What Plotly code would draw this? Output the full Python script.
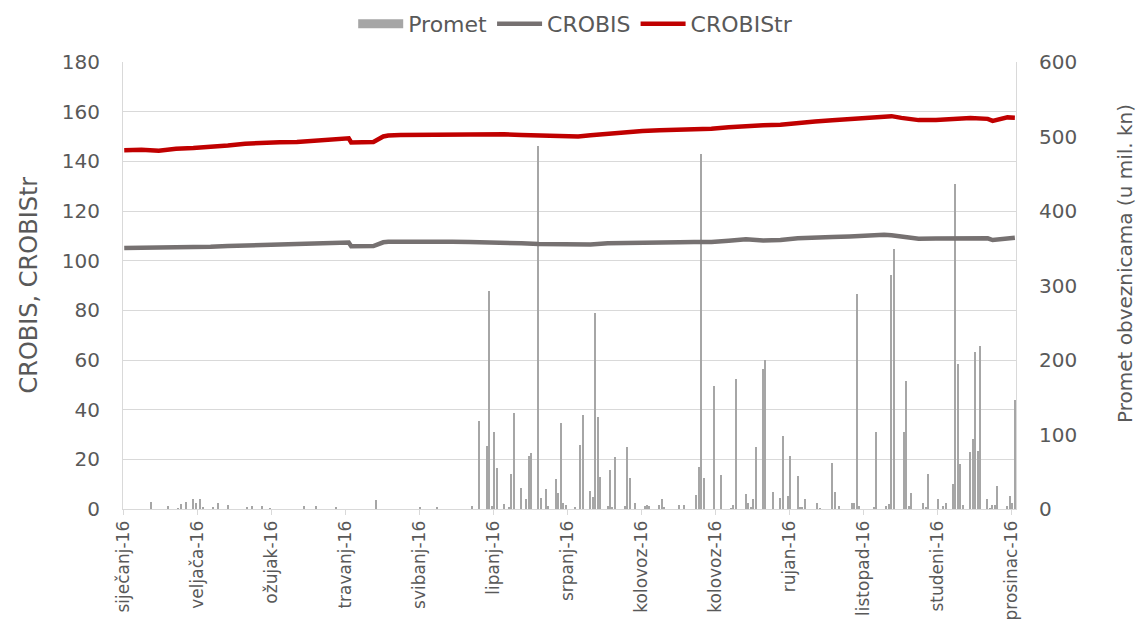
import plotly.graph_objects as go
import pandas as pd

# ---------------- data ----------------
promet_dates = [
    "2016-01-15", "2016-01-22", "2016-01-26", "2016-01-27", "2016-01-29", "2016-02-01", "2016-02-02",
    "2016-02-04", "2016-02-05", "2016-02-09", "2016-02-11", "2016-02-15", "2016-02-23", "2016-02-25",
    "2016-02-29", "2016-03-03", "2016-03-17", "2016-03-22", "2016-03-30", "2016-04-15", "2016-05-03",
    "2016-05-10", "2016-05-24", "2016-05-27", "2016-05-30", "2016-05-31", "2016-06-01", "2016-06-02",
    "2016-06-03", "2016-06-06", "2016-06-08", "2016-06-09", "2016-06-10", "2016-06-13", "2016-06-15",
    "2016-06-16", "2016-06-17", "2016-06-20", "2016-06-21", "2016-06-23", "2016-06-24", "2016-06-27",
    "2016-06-28", "2016-06-29", "2016-06-30", "2016-07-01", "2016-07-05", "2016-07-07", "2016-07-08",
    "2016-07-11", "2016-07-12", "2016-07-13", "2016-07-14", "2016-07-15", "2016-07-18", "2016-07-19",
    "2016-07-20", "2016-07-21", "2016-07-25", "2016-07-26", "2016-07-27", "2016-07-29", "2016-08-02",
    "2016-08-03", "2016-08-04", "2016-08-08", "2016-08-09", "2016-08-10", "2016-08-16", "2016-08-18",
    "2016-08-23", "2016-08-24", "2016-08-25", "2016-08-26", "2016-08-30", "2016-09-02", "2016-09-06",
    "2016-09-07", "2016-09-08", "2016-09-12", "2016-09-13", "2016-09-14", "2016-09-15", "2016-09-16",
    "2016-09-19", "2016-09-20", "2016-09-23", "2016-09-26", "2016-09-27", "2016-09-29", "2016-09-30",
    "2016-10-03", "2016-10-04", "2016-10-05", "2016-10-06", "2016-10-11", "2016-10-12", "2016-10-17",
    "2016-10-18", "2016-10-20", "2016-10-25", "2016-10-26", "2016-10-27", "2016-10-28", "2016-11-03",
    "2016-11-04", "2016-11-08", "2016-11-09", "2016-11-10", "2016-11-11", "2016-11-15", "2016-11-16",
    "2016-11-17", "2016-11-18", "2016-11-23", "2016-11-24", "2016-11-25", "2016-11-29", "2016-12-01",
    "2016-12-02", "2016-12-05", "2016-12-06", "2016-12-07", "2016-12-08", "2016-12-09", "2016-12-12",
    "2016-12-13", "2016-12-14", "2016-12-15", "2016-12-16", "2016-12-19", "2016-12-20", "2016-12-21",
    "2016-12-22", "2016-12-23", "2016-12-27", "2016-12-28", "2016-12-29", "2016-12-30",
]
promet = [
    9.8, 4.0, 1.3, 6.2, 9.4, 13.8, 8.0,
    13.8, 2.7, 2.7, 8.0, 5.4, 2.7, 4.0,
    4.0, 1.3, 4.0, 4.0, 2.7, 12.5, 2.7,
    2.7, 4.0, 118.0, 84.0, 292.0, 4.0, 103.5,
    54.5, 6.7, 2.7, 46.4, 129.0, 27.7, 13.4,
    71.4, 75.4, 487.0, 15.2, 26.3, 4.0, 40.6,
    21.0, 115.0, 8.5, 5.4, 2.7, 85.7, 126.3,
    24.1, 15.6, 263.0, 123.2, 43.3, 4.0, 51.8,
    2.7, 69.6, 4.0, 82.6, 42.0, 8.0, 4.0,
    5.4, 4.0, 5.4, 13.8, 2.7, 5.4, 5.4,
    18.3, 56.2, 477.0, 42.0, 165.6, 45.0, 1.3,
    5.4, 174.0, 19.6, 8.0, 2.7, 13.4, 82.6,
    188.3, 199.5, 22.3, 15.2, 98.2, 17.0, 71.4,
    44.6, 2.7, 2.7, 12.9, 8.0, 1.3, 61.6,
    22.3, 4.0, 8.0, 8.0, 288.8, 4.0, 2.7,
    103.5, 4.0, 6.7, 314.2, 349.5, 102.7, 171.4,
    4.0, 21.0, 8.0, 2.7, 46.4, 13.4, 4.0,
    8.0, 33.5, 436.5, 195.0, 60.3, 5.4, 75.9,
    94.6, 210.2, 77.2, 218.7, 13.4, 1.3, 5.4,
    5.4, 30.3, 4.0, 17.0, 8.0, 146.0,
]

line_dates = [
    "2016-01-04", "2016-01-11", "2016-01-18", "2016-01-25", "2016-02-01", "2016-02-08", "2016-02-15",
    "2016-02-22", "2016-02-29", "2016-03-07", "2016-03-14", "2016-03-21", "2016-03-29", "2016-04-01",
    "2016-04-04", "2016-04-05", "2016-04-11", "2016-04-14", "2016-04-18", "2016-04-20", "2016-04-25",
    "2016-05-02", "2016-05-09", "2016-05-16", "2016-05-23", "2016-05-30", "2016-06-06", "2016-06-13",
    "2016-06-20", "2016-06-27", "2016-07-04", "2016-07-06", "2016-07-11", "2016-07-18", "2016-07-25",
    "2016-08-01", "2016-08-08", "2016-08-16", "2016-08-22", "2016-08-29", "2016-09-05", "2016-09-12",
    "2016-09-19", "2016-09-26", "2016-10-03", "2016-10-10", "2016-10-17", "2016-10-24", "2016-10-31",
    "2016-11-07", "2016-11-10", "2016-11-14", "2016-11-21", "2016-11-28", "2016-12-05", "2016-12-12",
    "2016-12-19", "2016-12-21", "2016-12-27", "2016-12-30",
]
crobis = [
    105.1, 105.2, 105.0, 105.0, 105.4, 105.6, 105.9,
    106.2, 106.4, 106.5, 106.7, 106.9, 107.0, 107.2,
    107.3, 105.8, 105.8, 105.9, 107.4, 107.6, 107.6,
    107.7, 107.7, 107.6, 107.5, 107.4, 107.4, 107.0,
    106.7, 106.6, 106.4, 106.2, 106.5, 107.0, 107.0,
    107.1, 107.2, 107.4, 107.5, 107.5, 108.0, 108.6,
    108.1, 108.3, 109.0, 109.4, 109.5, 109.7, 110.1,
    110.4, 110.2, 109.6, 108.8, 108.9, 109.0, 109.1,
    109.0, 108.3, 109.2, 109.2,
]
crobistr = [
    144.5, 144.7, 144.3, 145.1, 145.4, 145.8, 146.4,
    147.1, 147.5, 147.7, 147.8, 148.4, 148.9, 149.2,
    149.3, 147.6, 147.6, 147.8, 150.0, 150.4, 150.6,
    150.7, 150.6, 150.9, 151.1, 151.0, 150.9, 150.6,
    150.4, 150.3, 150.2, 150.0, 150.5, 151.2, 151.7,
    152.2, 152.5, 152.7, 152.8, 153.1, 153.7, 154.3,
    154.5, 154.7, 155.5, 156.0, 156.5, 157.0, 157.6,
    158.1, 158.2, 157.5, 156.6, 156.6, 156.9, 157.4,
    157.1, 156.3, 157.7, 157.6,
]

tick_dates = ["2016-01-04", "2016-02-03", "2016-03-04", "2016-04-03", "2016-05-03", "2016-06-02",
              "2016-07-02", "2016-08-01", "2016-08-31", "2016-09-30", "2016-10-30", "2016-11-29",
              "2016-12-29"]
tick_labels = ["siječanj-16", "veljača-16", "ožujak-16", "travanj-16", "svibanj-16", "lipanj-16",
               "srpanj-16", "kolovoz-16", "kolovoz-16", "rujan-16", "listopad-16", "studeni-16",
               "prosinac-16"]

left_title = "CROBIS, CROBIStr"
right_title = "Promet obveznicama (u mil. kn)"

# ---------------- figure ----------------
FONT = "DejaVu Sans"
TXT = "#595959"
AX = "#d9d9d9"
BAR_C = "#a6a6a6"
DAY_MS = 86400000

fig = go.Figure()
# legend entry for the bars (thick grey swatch like the original legend)
fig.add_trace(go.Scatter(
    x=[None], y=[None], name="Promet", mode="lines", legendgroup="promet",
    line=dict(color=BAR_C, width=9), yaxis="y2", hoverinfo="skip",
))
fig.add_trace(go.Bar(
    x=pd.to_datetime(promet_dates), y=promet, name="Promet", legendgroup="promet",
    showlegend=False,
    marker=dict(color=BAR_C, line=dict(width=0)),
    width=0.6 * DAY_MS, yaxis="y",
))
fig.add_trace(go.Scatter(
    x=pd.to_datetime(line_dates), y=crobis, name="CROBIS", mode="lines",
    line=dict(color="#767171", width=4.5), yaxis="y2",
))
fig.add_trace(go.Scatter(
    x=pd.to_datetime(line_dates), y=crobistr, name="CROBIStr", mode="lines",
    line=dict(color="#c00000", width=4.5), yaxis="y2",
))

tickvals = pd.to_datetime(tick_dates) - pd.Timedelta(hours=10)

fig.update_layout(
    width=1140, height=624,
    margin=dict(l=123, r=124, t=62, b=115, autoexpand=False),
    paper_bgcolor="white", plot_bgcolor="white",
    font=dict(family=FONT, color=TXT, size=19),
    bargap=0,
    showlegend=True,
    legend=dict(orientation="h", x=0.505, xanchor="center", xref="container",
                y=1 - 24 / 624, yanchor="middle", yref="container",
                font=dict(size=22, color=TXT), traceorder="normal", itemwidth=45),
    xaxis=dict(
        type="date", range=["2016-01-03 12:00", "2016-12-30 11:00"],
        tickmode="array", tickvals=tickvals, ticktext=tick_labels,
        tickangle=-90, ticks="outside", ticklen=5, tickcolor=AX,
        showline=True, linecolor=AX, linewidth=1, showgrid=False, zeroline=False,
        tickfont=dict(size=17, color=TXT), automargin=False, ticklabelstandoff=-1,
    ),
    yaxis=dict(
        side="right", range=[0, 600], dtick=100, tick0=0,
        showgrid=False, zeroline=False, showline=True, linecolor=AX, linewidth=1,
        ticks="", ticklabelstandoff=18, automargin=False,
        tickfont=dict(size=20, color=TXT),
    ),
    yaxis2=dict(
        overlaying="y", side="left", range=[0, 180], dtick=20, tick0=0,
        showgrid=True, gridcolor=AX, gridwidth=1, zeroline=False,
        showline=True, linecolor=AX, linewidth=1,
        ticks="", ticklabelstandoff=18, automargin=False,
        tickfont=dict(size=20, color=TXT),
    ),
    annotations=[
        dict(text=left_title, xref="paper", yref="paper", x=-(123 - 28) / 893, y=0.5,
             xanchor="center", yanchor="middle", textangle=-90, showarrow=False,
             font=dict(size=24, color=TXT, family=FONT)),
        dict(text=right_title, xref="paper", yref="paper", x=1 + (1125 - 1016) / 893,
             y=(509 - 264) / 447, xanchor="center", yanchor="middle", textangle=-90,
             showarrow=False, font=dict(size=20, color=TXT, family=FONT)),
    ],
)

fig.write_html("out.html", config={"displayModeBar": False},
               post_script="document.body.style.margin='0';")
